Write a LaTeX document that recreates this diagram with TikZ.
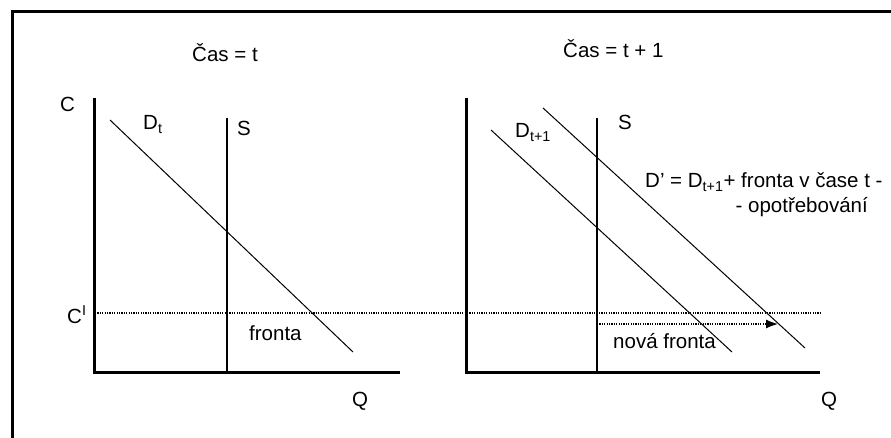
\documentclass[tikz,border=0pt]{standalone}
\usepackage{fontspec}
\setmainfont{Liberation Sans}
\usetikzlibrary{arrows.meta}
\begin{document}
\begin{tikzpicture}[x=1pt,y=-1pt,
  lbl/.style={inner sep=0pt,anchor=base west,font=\fontsize{20.5}{24}\selectfont},
  frame/.style={line width=3pt},
  axis/.style={line width=3pt},
  supply/.style={line width=1.5pt},
  demand/.style={line width=1pt},
  dots/.style={line width=1.2pt,dash pattern=on 1.2pt off 1.2pt},
  shiftarrow/.style={dots,-{Latex[length=12pt,width=9pt]}}]
\useasboundingbox (0,0) rectangle (891,438);
% frame
\coordinate (F1) at (891,12);
\coordinate (F2) at (12,12);
\coordinate (F3) at (12,438);
\draw[frame] (F1) -- (F2) -- (F3);
% titles
\node[lbl] (title1) at (192,62) {Čas = t};
\node[lbl] (title2) at (563,58) {Čas = t + 1};
% left chart
\coordinate (LA) at (94,98);
\coordinate (LO) at (94,372);
\coordinate (LX) at (400,372);
\draw[axis] (LA) -- (LO) -- (LX);
\coordinate (LS1) at (227,118);
\coordinate (LS2) at (227,374);
\draw[supply] (LS1) -- (LS2);
\coordinate (LD1) at (110,120);
\coordinate (LD2) at (353,352);
\draw[demand] (LD1) -- (LD2);
\node[lbl] (cL) at (60,112) {C};
\node[lbl] (dt) at (143,130) {D\textsubscript{t}};
\node[lbl] (sL) at (237,136) {S};
\node[lbl] (cI) at (67,323) {C\textsuperscript{I}};
\node[lbl] (fronta) at (249,340) {fronta};
\node[lbl] (qL) at (352,406) {Q};
% dotted price line
\coordinate (CI1) at (95,313);
\coordinate (CI2) at (822,313);
\draw[dots] (CI1) -- (CI2);
% right chart
\coordinate (RA) at (466,98);
\coordinate (RO) at (466,372);
\coordinate (RX) at (820,372);
\draw[axis] (RA) -- (RO) -- (RX);
\coordinate (RS1) at (597,118);
\coordinate (RS2) at (597,374);
\draw[supply] (RS1) -- (RS2);
\coordinate (RD1) at (491,130);
\coordinate (RD2) at (732,352);
\draw[demand] (RD1) -- (RD2);
\coordinate (RP1) at (543,108);
\coordinate (RP2) at (805,348);
\draw[demand] (RP1) -- (RP2);
\coordinate (AR1) at (597,324);
\coordinate (AR2) at (778,324);
\draw[shiftarrow] (AR1) -- (AR2);
\node[lbl] (sR) at (618,130) {S};
\node[lbl] (dt1) at (515,138) {D\textsubscript{t+1}};
\node[lbl] (dprime) at (645,188) {D’ = D\textsubscript{t+1}+ fronta v čase t -};
\node[lbl,anchor=base east] (dprime2) at (868,213) {- opotřebování};
\node[lbl] (nova) at (613,348) {nová fronta};
\node[lbl] (qR) at (821,406) {Q};
\end{tikzpicture}
\end{document}
